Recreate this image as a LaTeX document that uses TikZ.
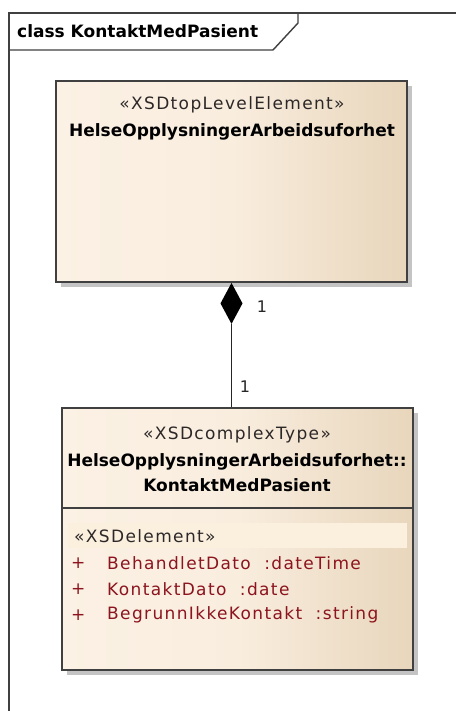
\documentclass[tikz,border=0pt]{standalone}
\usepackage{fontspec}
\setmainfont{DejaVu Sans}
\newfontfamily\regfont[LetterSpace=8]{DejaVu Sans}
\usetikzlibrary{calc}
\definecolor{framecol}{RGB}{64,64,64}
\definecolor{boxL}{RGB}{251,241,228}
\definecolor{boxM}{RGB}{249,237,222}
\definecolor{boxR}{RGB}{232,214,188}
\definecolor{bandcol}{RGB}{251,239,222}
\definecolor{shadowcol}{RGB}{196,196,196}
\definecolor{attrcol}{RGB}{140,20,30}
\definecolor{stereocol}{RGB}{45,40,40}
\pgfdeclarehorizontalshading{umlshade}{100bp}{color(0bp)=(boxL); color(25bp)=(boxL); color(50bp)=(boxM); color(75bp)=(boxR); color(100bp)=(boxR)}
\begin{document}
\begin{tikzpicture}[x=1pt,y=-1pt,
  txt/.style={inner sep=0pt, font=\fontsize{17}{20}\selectfont},
  bold/.style={txt, font=\fontsize{17}{20}\selectfont\bfseries, text=black},
  stereo/.style={txt, font=\fontsize{17}{20}\selectfont\regfont, text=stereocol},
  attr/.style={txt, font=\fontsize{17}{20}\selectfont\regfont, text=attrcol, anchor=west},
  umlbox/.style={draw=framecol, line width=1.8pt, shading=umlshade, inner sep=0pt},
  mult/.style={txt, font=\fontsize{16}{20}\selectfont, text=black!85}
]
\useasboundingbox (0,0) rectangle (455,711);
\fill[white] (0,0) rectangle (455,711);
% frame
\draw[framecol, line width=1.6pt] (460,13) -- (9,13) -- (9,720);
\draw[framecol, line width=1.4pt] (298,13) -- (298,23) -- (273,50) -- (9,50);
\node[bold, anchor=west] (title) at (17,31) {class KontaktMedPasient};
% top box
\fill[shadowcol] (61,86) rectangle (412,287);
\node[umlbox, minimum width=351pt, minimum height=201pt] (top) at (231.5,181.5) {};
\node[stereo] (topst) at (232,105) {«XSDtopLevelElement»};
\node[bold] (topname) at (232,132) {HelseOpplysningerArbeidsuforhet};
% bottom box
\fill[shadowcol] (67,413) rectangle (418,675);
\node[umlbox, minimum width=351pt, minimum height=262pt] (bot) at (237.5,539) {};
\draw[framecol, line width=1.6pt] (bot.west |- 0,508) -- (bot.east |- 0,508);
\node[stereo] (botst) at (237,435) {«XSDcomplexType»};
\node[bold] (botname1) at (237,462) {HelseOpplysningerArbeidsuforhet::};
\node[bold] (botname2) at (237,485) {KontaktMedPasient};
\fill[bandcol] (68,523) rectangle (407,548);
\node[stereo, anchor=west] (elst) at (74,536) {«XSDelement»};
\node[attr] (p1) at (71,563) {+};
\node[attr] (a1) at (107,563) {BehandletDato\ \ :dateTime};
\node[attr] (p2) at (71,589) {+};
\node[attr] (a2) at (107,589) {KontaktDato\ \ :date};
\node[attr] (p3) at (71,615) {+};
\node[attr] (a3) at (107,615) {BegrunnIkkeKontakt\ \ :string};
% composition connector
\coordinate (dtop) at (top.south);
\coordinate (dbot) at ($(top.south)+(0,41)$);
\fill[black] (dtop) -- ++(11,20.5) -- (dbot) -- ++(-11,-20.5) -- cycle;
\draw[black!85, line width=1.6pt] (dbot) -- (dbot |- bot.north);
\node[mult] (m1) at (262,307) {1};
\node[mult] (m2) at (245,387) {1};
\end{tikzpicture}
\end{document}
